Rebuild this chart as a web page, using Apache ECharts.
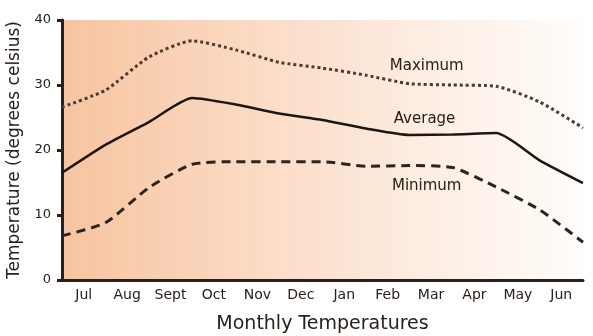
<!DOCTYPE html>
<html>
<head>
<meta charset="utf-8">
<script src="https://cdn.jsdelivr.net/npm/echarts@6/dist/echarts.min.js"></script>
<style>
  html, body { margin: 0; padding: 0; background: #fff; }
  #chart { width: 593px; height: 336px; }
</style>
</head>
<body>
<div id="chart"></div>
<script>
const months = ['Jul', 'Aug', 'Sept', 'Oct', 'Nov', 'Dec', 'Jan', 'Feb', 'Mar', 'Apr', 'May', 'Jun'];
// readings taken at each month boundary (13 points, Jul start .. Jun end)
const maxTemps = [26.6, 29.2, 34.3, 36.8, 35.4, 33.5, 32.6, 31.5, 30.2, 30.0, 29.8, 27.4, 23.4];
const avgTemps = [16.5, 20.8, 24.3, 28.0, 27.0, 25.6, 24.6, 23.3, 22.3, 22.4, 22.6, 18.4, 14.9];
const minTemps = [6.8, 8.8, 14.2, 17.8, 18.2, 18.2, 18.2, 17.5, 17.6, 17.3, 14.3, 10.8, 5.8];
const yTicks = [0, 10, 20, 30, 40];
const seriesLabels = ['Maximum', 'Average', 'Minimum'];
// where each series name sits: [month position, temperature]
const labelSpots = [[8.4, 32.9], [8.35, 24.8], [8.4, 14.5]];

const font = '"DejaVu Sans", sans-serif';
const ink = '#2a2019';

const toPoints = (arr) => arr.map((v, i) => [i, v]);

const lineSeries = (name, values, lineType, color, width, idx) => ({
  name,
  type: 'line',
  xAxisIndex: 1,
  smooth: 0.2,
  symbol: 'none',
  data: toPoints(values),
  lineStyle: { color, width, type: lineType, cap: 'butt' },
  markPoint: {
    symbol: 'circle',
    symbolSize: 0,
    silent: true,
    label: {
      show: true,
      formatter: name,
      color: ink,
      fontFamily: font,
      fontSize: 15,
      position: 'inside',
    },
    data: [{ coord: labelSpots[idx] }],
  },
});

const chart = echarts.init(document.getElementById('chart'));
chart.setOption({
  animation: false,
  grid: {
    left: 62, right: 10, top: 20, bottom: 56,
    outerBoundsMode: 'none',
    show: true,
    borderWidth: 0,
    backgroundColor: new echarts.graphic.LinearGradient(0, 0, 1, 0, [
      { offset: 0, color: '#f7c4a0' },
      { offset: 0.4, color: '#fbdcc7' },
      { offset: 0.75, color: '#fdf0e7' },
      { offset: 1, color: '#fffdfb' },
    ]),
  },
  xAxis: [{
    type: 'category',
    data: months,
    boundaryGap: true,
    name: 'Monthly Temperatures',
    nameLocation: 'middle',
    nameGap: 35,
    nameTextStyle: { fontFamily: font, fontSize: 19, color: ink },
    axisLine: { lineStyle: { color: ink, width: 3 } },
    axisTick: { inside: true, length: 4, lineStyle: { color: ink, width: 2 } },
    axisLabel: { fontFamily: font, fontSize: 14, color: ink, margin: 8 },
    splitLine: { show: false },
  }, {
    type: 'value',
    min: 0,
    max: 12,
    show: false,
  }],
  yAxis: {
    type: 'value',
    min: 0,
    max: 40,
    interval: 10,
    name: 'Temperature (degrees celsius)',
    nameLocation: 'middle',
    nameGap: 36,
    nameTextStyle: { fontFamily: font, fontSize: 17, color: ink },
    axisLine: { show: true, lineStyle: { color: ink, width: 3 } },
    axisTick: { show: true, length: 5, lineStyle: { color: ink, width: 3 } },
    axisLabel: {
      fontFamily: font, fontSize: 13, color: ink, margin: 11,
      formatter: (v) => (yTicks.includes(v) ? String(v) : ''),
    },
    splitLine: { show: false },
  },
  series: [
    lineSeries(seriesLabels[0], maxTemps, [3, 3], '#4a3c34', 3, 0),
    lineSeries(seriesLabels[1], avgTemps, 'solid', '#1e1612', 2.5, 1),
    lineSeries(seriesLabels[2], minTemps, [9, 6], '#2e241e', 3, 2),
  ],
});
</script>
</body>
</html>
